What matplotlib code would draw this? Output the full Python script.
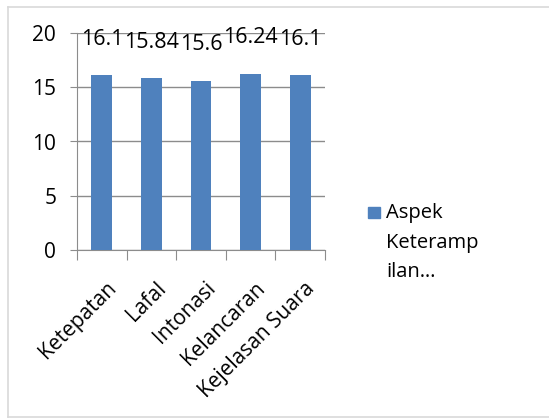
import matplotlib.pyplot as plt
from matplotlib.lines import Line2D
from matplotlib.patches import Rectangle
from matplotlib.transforms import ScaledTranslation

categories = ["Ketepatan", "Lafal", "Intonasi", "Kelancaran", "Kejelasan Suara"]
values = [16.1, 15.84, 15.6, 16.24, 16.1]
value_labels = ["16.1", "15.84", "15.6", "16.24", "16.1"]
y_ticks = [0, 5, 10, 15, 20]
series_name = "Aspek\nKeteramp\nilan…"

plt.rcParams['font.family'] = ['Open Sans', 'DejaVu Sans']

W, H = 549, 419
fig = plt.figure(figsize=(W / 100, H / 100), dpi=100)

# outer chart frame (left, top, bottom edges)
frame_kw = dict(color="#d9d9d9", lw=1.2, transform=fig.transFigure)
fig.add_artist(Line2D([8 / W, 8 / W], [1 - 7 / H, 1 - 417 / H], **frame_kw))
fig.add_artist(Line2D([8 / W, 1.02], [1 - 7 / H, 1 - 7 / H], **frame_kw))
fig.add_artist(Line2D([8 / W, 1.02], [1 - 417 / H, 1 - 417 / H], **frame_kw))

ax = fig.add_axes([77 / W, 1 - 250 / H, (325 - 77) / W, (250 - 33) / H])

bar_c = "#4f81bd"
grid_c = "#8c8c8c"
x = list(range(len(categories)))
ax.bar(x, values, width=0.42, color=bar_c, zorder=3)
ax.set_xlim(-0.5, len(categories) - 0.5)
ax.set_ylim(0, 20)

ax.set_yticks(y_ticks)
ax.yaxis.grid(True, color=grid_c, lw=1)
ax.set_axisbelow(True)
ax.tick_params(axis='y', direction='out', length=5, color=grid_c, labelsize=15, pad=10)

# category boundary ticks on x axis
ax.set_xticks([i - 0.5 for i in range(len(categories) + 1)])
ax.set_xticklabels([])
ax.tick_params(axis='x', direction='out', length=7, color=grid_c)
ax.set_xticks(x, minor=True)
ax.set_xticklabels(categories, minor=True, rotation=45, ha='right',
                   rotation_mode='anchor', fontsize=15)
ax.tick_params(axis='x', which='minor', length=0, pad=20)
shift = ScaledTranslation(4 / 100, 0, fig.dpi_scale_trans)
for lab in ax.get_xticklabels(minor=True):
    lab.set_transform(lab.get_transform() + shift)

for s in ["top", "right"]:
    ax.spines[s].set_visible(False)
for s in ["left", "bottom"]:
    ax.spines[s].set_color(grid_c)

# value labels above bars
for xi, v, t in zip(x, values, value_labels):
    ax.text(xi, v + 2.8, t, ha='center', va='baseline', fontsize=15.5, zorder=4)

# legend: swatch beside the first line of the series name
fig.add_artist(Rectangle((368 / W, 1 - 218 / H), 12 / W, 11 / H,
                         color=bar_c, transform=fig.transFigure))
for i, line in enumerate(series_name.split("\n")):
    fig.text(386 / W, 1 - (213 + 29.5 * i) / H, line, fontsize=14.5,
             ha='left', va='center')

fig.savefig("out.png", dpi=100)
